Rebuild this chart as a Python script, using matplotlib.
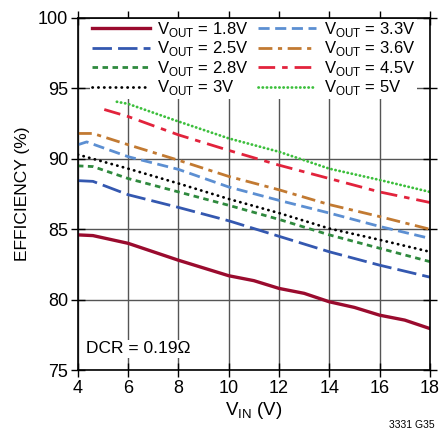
import matplotlib
matplotlib.use("Agg")
import matplotlib.pyplot as plt

plt.rcParams['font.family'] = ['Liberation Sans', 'DejaVu Sans']
plt.rcParams['mathtext.fontset'] = 'custom'
plt.rcParams['mathtext.rm'] = 'Liberation Sans'

# efficiency vs input voltage, one series per output voltage
vin_a = [4, 4.6, 6, 8, 10, 11, 12, 13, 14, 15, 16, 17, 18]
eff_18 = [84.6, 84.55, 84.0, 82.8, 81.7, 81.35, 80.8, 80.45, 79.85, 79.45, 78.9, 78.55, 77.95]

vin_b = [4, 4.6, 6, 8, 10, 12, 14, 16, 18]
eff_25 = [88.45, 88.4, 87.45, 86.55, 85.6, 84.5, 83.4, 82.45, 81.6]
eff_28 = [89.5, 89.45, 88.6, 87.65, 86.7, 85.7, 84.6, 83.65, 82.7]
eff_36 = [91.8, 91.8, 91.0, 89.9, 88.75, 87.8, 86.75, 85.9, 85.0]

vin_c = [4, 6, 8, 10, 12, 14, 16, 18]
eff_30 = [90.3, 89.3, 88.25, 87.15, 86.15, 85.05, 84.25, 83.4]

vin_d = [4, 4.35, 6, 8, 10, 12, 14, 16, 18]
eff_33 = [91.0, 91.2, 90.15, 89.25, 88.0, 87.05, 86.15, 85.2, 84.35]

vin_e = [5.05, 6, 8, 10, 12, 14, 16, 18]
eff_45 = [93.5, 93.0, 91.7, 90.6, 89.55, 88.6, 87.65, 86.9]

vin_f = [5.55, 6, 8, 10, 12, 14, 16, 18]
eff_50 = [94.05, 93.9, 92.65, 91.45, 90.5, 89.3, 88.5, 87.65]

labels = ['1.8V', '2.5V', '2.8V', '3V', '3.3V', '3.6V', '4.5V', '5V']

fig = plt.figure(figsize=(4.4, 4.38), dpi=100)
ax = fig.add_axes([0.177, 0.155, 0.8, 0.804])

def lab(v):
    return r'V$_{\mathregular{OUT}}$ = ' + v

# order of drawing follows legend (column-wise)
ax.plot(vin_a, eff_18, color='#9a0b2e', lw=2.4, label=lab(labels[0]))
ax.plot(vin_b, eff_25, color='#3458b0', lw=2, ls=(0, (7, 2.2)), label=lab(labels[1]))
ax.plot(vin_b, eff_28, color='#2f8a3e', lw=2, ls=(0, (2, 1.6)), label=lab(labels[2]))
ax.plot(vin_c, eff_30, color='black', lw=2, ls=(0, (0.1, 2)), dash_capstyle='round',
        label=lab(labels[3]))
ax.plot(vin_d, eff_33, color='#5c8fd2', lw=2, ls=(0, (4, 2)), label=lab(labels[4]))
ax.plot(vin_b, eff_36, color='#c27a32', lw=2, ls=(0, (5, 2, 1.5, 2)), label=lab(labels[5]))
ax.plot(vin_e, eff_45, color='#e2233c', lw=2, ls=(0, (6, 2.5, 2, 2.5)), label=lab(labels[6]))
ax.plot(vin_f, eff_50, color='#3cbf3c', lw=2, ls=(0, (0.1, 1.4)), dash_capstyle='round',
        label=lab(labels[7]))

ax.set_xlim(4, 18)
ax.set_ylim(75, 100)
ax.set_xticks(range(4, 19, 2))
ax.set_yticks(range(75, 101, 5))
ax.grid(True, color='#555555', lw=1)
ax.set_axisbelow(True)
ax.tick_params(direction='inout', length=10, width=1, labelsize=13,
               top=True, right=True, pad=2)
for s in ax.spines.values():
    s.set_linewidth(1.2)

ax.set_xlabel(r'V$_{\mathregular{IN}}$ (V)', fontsize=13.5, labelpad=2)
ax.set_ylabel('EFFICIENCY (%)', fontsize=12.5, labelpad=6)

leg = ax.legend(ncol=2, loc='upper left', bbox_to_anchor=(0.035, 0.998), fontsize=12,
                frameon=True, framealpha=1, edgecolor='none', fancybox=False,
                handlelength=3.5, handletextpad=0.45, columnspacing=0.55,
                labelspacing=0.03, borderpad=0.08, borderaxespad=0)

ax.text(4.32, 76.5, 'DCR = 0.19Ω', fontsize=12.5, va='center',
        bbox=dict(facecolor='white', edgecolor='none', pad=1))

fig.text(0.885, 0.022, '3331 G35', fontsize=7.5)

fig.savefig('out.png', dpi=100)
